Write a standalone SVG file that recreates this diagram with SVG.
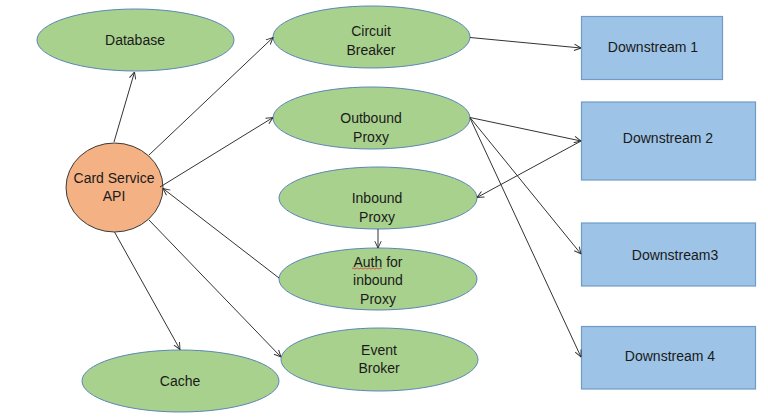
<svg xmlns="http://www.w3.org/2000/svg" width="768" height="419" viewBox="0 0 768 419">
<style>
.bg{fill:#ffffff}
.svc{fill:#a9d18e;stroke:#5b87b5;stroke-width:1}
.api{fill:#f4b183;stroke:#3a3a3a;stroke-width:1}
.ds{fill:#9dc3e6;stroke:#6f9cc8;stroke-width:1.2}
text{font-family:"Liberation Sans",Arial,sans-serif;font-size:14px;fill:#1a1a1a;text-anchor:middle}
.conn line{stroke:#333333;stroke-width:1;fill:none;marker-end:url(#arr)}
</style>
<defs>
<marker id="arr" viewBox="0 0 10 10" refX="9.5" refY="5" markerWidth="8" markerHeight="8" markerUnits="userSpaceOnUse" orient="auto">
<path d="M1,1 L9.5,5 L1,9" fill="none" stroke="#333333" stroke-width="1.2"/>
</marker>
</defs>
<rect class="bg" x="0" y="0" width="768" height="419"/>

<g id="card-service-api">
<ellipse class="api" cx="114.5" cy="187.5" rx="48.5" ry="44.5"/>
<text x="114" y="183">Card Service</text>
<text x="114" y="201">API</text>
</g>
<g id="database">
<ellipse class="svc" cx="135.5" cy="40" rx="98.5" ry="31"/>
<text x="135" y="45">Database</text>
</g>
<g id="circuit-breaker">
<ellipse class="svc" cx="371.5" cy="37" rx="98.5" ry="31"/>
<text x="371" y="36">Circuit</text>
<text x="371" y="55">Breaker</text>
</g>
<g id="outbound-proxy">
<ellipse class="svc" cx="371.5" cy="118" rx="98.5" ry="31"/>
<text x="371" y="123">Outbound</text>
<text x="371" y="142">Proxy</text>
</g>
<g id="inbound-proxy">
<ellipse class="svc" cx="378" cy="198" rx="99" ry="31"/>
<text x="377" y="203">Inbound</text>
<text x="377" y="222">Proxy</text>
</g>
<g id="auth-for-inbound-proxy">
<ellipse class="svc" cx="378" cy="279" rx="99" ry="31"/>
<text x="378" y="267">Auth for</text>
<text x="378" y="285">inbound</text>
<text x="378" y="304">Proxy</text>
<path d="M352,268.5 q1,-1.2 2,0 t2,0 t2,0 t2,0 t2,0 t2,0 t2,0 t2,0 t2,0 t2,0 t2,0 t2,0 t2,0 t2,0 t2,0" fill="none" stroke="#e03030" stroke-width="0.8"/>
</g>
<g id="event-broker">
<ellipse class="svc" cx="379.5" cy="359.5" rx="98.5" ry="31.5"/>
<text x="379" y="355">Event</text>
<text x="379" y="373">Broker</text>
</g>
<g id="cache">
<ellipse class="svc" cx="180.5" cy="381" rx="98.5" ry="31"/>
<text x="180" y="386">Cache</text>
</g>
<g id="downstream-1">
<rect class="ds" x="581.5" y="16.5" width="141" height="63"/>
<text x="653" y="52">Downstream 1</text>
</g>
<g id="downstream-2">
<rect class="ds" x="581.5" y="102" width="174" height="78"/>
<text x="668" y="143">Downstream 2</text>
</g>
<g id="downstream-3">
<rect class="ds" x="581.5" y="223" width="174" height="63"/>
<text x="675" y="260">Downstream3</text>
</g>
<g id="downstream-4">
<rect class="ds" x="581.5" y="326.5" width="174" height="62.5"/>
<text x="670" y="361">Downstream 4</text>
</g>

<g id="connectors" class="conn">
<line x1="114" y1="142" x2="134.5" y2="72"/>
<line x1="149" y1="155" x2="273" y2="37.5"/>
<line x1="160" y1="187" x2="273" y2="117.5"/>
<line x1="279" y1="278" x2="163" y2="188.5"/>
<line x1="149" y1="220" x2="281" y2="357"/>
<line x1="114.5" y1="232" x2="180" y2="349.5"/>
<line x1="378" y1="229" x2="378" y2="248"/>
<line x1="470" y1="37.5" x2="581" y2="48"/>
<line x1="470" y1="117.5" x2="581" y2="141"/>
<line x1="581" y1="141" x2="477" y2="197.5"/>
<line x1="470" y1="117.5" x2="581" y2="254"/>
<line x1="470" y1="118" x2="581" y2="357"/>
</g>
</svg>
